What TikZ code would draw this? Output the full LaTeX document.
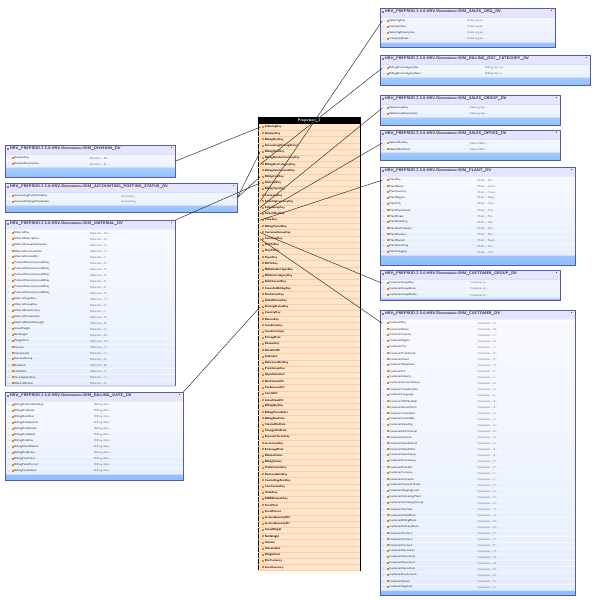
\documentclass[tikz,border=0pt]{standalone}
\usetikzlibrary{calc}

\tikzset{
  tab/.style={draw=gray!70!blue, top color=blue!6, bottom color=blue!55!cyan!45, inner sep=0pt},
  hdr/.style={font=\sffamily\fontsize{3.8}{4}\selectfont\bfseries, text=black!85, inner sep=1pt, anchor=north west},
  row/.style={font=\sffamily\fontsize{2.9}{3}\selectfont, inner sep=0pt, anchor=west},
  link/.style={draw=black!80, line width=0.5pt}
}
\newcommand\el{\ldots}

% name, x, y, width, height, title, rows (name/descr)
\newcommand\dimtab[7]{%
  \node[tab, minimum width=#4pt, minimum height=#5pt, anchor=north west] (#1) at (#2,#3) {};
  \fill[blue!10] ($(#1.north west)+(0.5,0.5)$) rectangle ($(#1.north east)+(-0.5,9)$);
  \draw[black!70] ($(#1.north east)+(-4,2)$) -- ++(0,1);
  \node[hdr] (#1-t) at ($(#1.north west)+(1,1)$) {\textcolor{gray}{\rule{2pt}{2pt}}\,HRV\_PREPROD.2-5-0.HRV.Dimensions::#6};
  \foreach \f/\d [count=\i] in {#7} {
    \fill[white, opacity=0.75] ($(#1.north west)+(0.5,4.2+\i*6)$) rectangle ($(#1.north east)+(-0.5,10.2+\i*6)$);
    \draw[blue!15] ($(#1.north west)+(0.5,10.2+\i*6)$) -- ($(#1.north east)+(-0.5,10.2+\i*6)$);
    \node[row] (#1-\i) at ($(#1.north west)+(2,7.2+\i*6)$) {\textcolor{gray}{+\,-}\,\textcolor{orange}{\rule{2pt}{2pt}}\,\textcolor{black!85}{\f}};
    \node[row] at ($(#1.north west)+(0.5*#4,7.2+\i*6)$) {\textcolor{black!60}{\d}};
  }
}

\begin{document}
\begin{tikzpicture}[x=1pt, y=-1pt]
  \useasboundingbox (0,0) rectangle (600,600);
  \fill[white] (0,0) rectangle (600,600);

  % projection
  \node[draw=black, fill=orange!20, minimum width=102pt, minimum height=453pt, anchor=north west, inner sep=0pt] (proj) at (258,117) {};
  \node[fill=black, text=white, font=\sffamily\fontsize{3.8}{4}\selectfont\bfseries, minimum width=102pt, minimum height=7pt, inner sep=0pt, anchor=north west] (proj-t) at (proj.north west) {Projection\_1};
  \foreach \f [count=\i] in {SalesOrgKey,DivisionKey,BillingDocKey,AccountingPostingStatus,BillingItemKey,BillingHeaderCurrencyKey,BillingDocCategoryKey,BillingItemCreatedKey,BillingLineKey,MaterialKey,BillingTypeKey,CompanyKey,SalesOrgCurrencyKey,SalesGroupKey,SalesOfficeKey,PlantKey,BillingPeriodKey,CustomerGroupKey,CustomerKey,SoldToKey,ShipToKey,PayerKey,BillToKey,BillSalesDocTypeKey,BillItemCategoryKey,DistChannelKey,CancelledBillingKey,DocStatusKey,GlobalStatusKey,PostingStatusKey,CountryKey,ReturnKey,ConditionKey,ConditionType,PricingDate,ReasonKey,RetailUOM,SalesUnit,ReferenceDocKey,PriceGroupKey,QtyInSalesUnit,NetValueInDC,TaxAmountDC,CostInDC,GrossValueDC,BillingQtyKey,BillingPeriodDate,BillingRunDate,CreatedOnDate,ChangedOnDate,PaymentTermsKey,IncotermsKey,ExchangeRate,RebateStatus,BillingStatus,ProfitCenterKey,BusinessAreaKey,ControllingAreaKey,CostCenterKey,OrderKey,WBSElementKey,FiscalYear,FiscalPeriod,InvoiceQuantityBU,InvoiceQuantitySU,GrossWeight,NetWeight,Volume,VolumeUnit,WeightUnit,DocCurrency,LocalCurrency} {
    \draw[orange!40] ($(proj.north west)+(0,6.2*\i+7.1)$) -- ($(proj.north east)+(0,6.2*\i+7.1)$);
    \node[row, font=\sffamily\fontsize{2.9}{3}\selectfont\bfseries] (proj-\i) at ($(proj.north west)+(2,6.2*\i+4)$) {\textcolor{gray}{--}\,\textcolor{orange}{\rule{2pt}{2pt}}\,\f};
  }

  % left
  \dimtab{div}{5}{145}{170}{32}{DIM\_DIVISION\_DV}{DivisionKey/Division -- Ke,DivisionDescription/Division -- D\el}
  \dimtab{acc}{5}{183}{232}{29}{DIM\_ACCOUNTING\_POSTING\_STATUS\_DV}{AccountingPostStatusKey/Accountin\el,AccountPostingStatusDescr/Accounting\el}
  \dimtab{mat}{5}{220}{170}{165}{DIM\_MATERIAL\_DV}{MaterialKey/Material -- Ke\el,MaterialDescription/Material -- D\el,MaterialGroupDescription/Material -- G\el,MaterialCreationDate/Material -- C\el,MaterialCreatedBy/Material -- C\el,ProductHierarchyLevel1Key/Material -- P\el,ProductHierarchyLevel2Key/Material -- P\el,ProductHierarchyLevel3Key/Material -- P\el,ProductHierarchyLevel4Key/Material -- P\el,ProductHierarchyLevel5Key/Material -- P\el,ProductHierarchyLevel6Key/Material -- P\el,MaterialTypeKey/Material -- T\el,MaterialGroupKey/Material -- G\el,MaterialIndustryKey/Material -- I\el,MaterialDivisionKey/Material -- D\el,MaterialBatchManaged/Material -- B\el,GrossWeight/Material -- G\el,NetWeight/Material -- N\el,WeightUnit/Material -- W\el,Volume/Material -- V\el,VolumeUnit/Material -- V\el,ExternalGroup/Material -- E\el,BaseUnit/Material -- B\el,LabOffice/Material -- L\el,TaxClassification/Material -- T\el,MaterialStatus/Material -- S\el}
  \dimtab{bdat}{5}{392}{178}{88}{DIM\_BILLING\_DATE\_DV}{BillingDateCalDateKey/Billing date\el,BillingDateDate/Billing date\el,BillingDateYear/Billing date\el,BillingDateQuarter/Billing date\el,BillingDateMonth/Billing date\el,BillingDateWeek/Billing date\el,BillingDateDay/Billing date\el,BillingMonthName/Billing date\el,BillingDayName/Billing date\el,BillingFiscalYear/Billing date\el,BillingFiscalPeriod/Billing date\el,BillingFiscalWeek/Billing date\el}

  % right
  \dimtab{sorg}{380}{8}{175}{39}{DIM\_SALES\_ORG\_DV}{SalesOrgKey/Sales organ\el,CompanyKey/Sales organ\el,SalesOrgDescription/Sales organi\el,CompanyName/Sales organi\el}
  \dimtab{bcat}{380}{55}{210}{30}{DIM\_BILLING\_DOC\_CATEGORY\_DV}{BillingDocCategoryKey/Billing doc ca\el,BillingDocCategoryDescr/Billing doc c\el}
  \dimtab{sgrp}{380}{95}{180}{30}{DIM\_SALES\_GROUP\_DV}{SalesGroupKey/Sales group -\el,SalesGroupDescription/Sales group \el}
  \dimtab{soff}{380}{130}{180}{30}{DIM\_SALES\_OFFICE\_DV}{SalesOfficeKey/Sales Office -\el,SalesOfficeDescr/Sales Office \el}
  \dimtab{plant}{380}{167}{195}{98}{DIM\_PLANT\_DV}{PlantKey/Plant -- Ke\el,PlantName/Plant -- Loca\el,PlantCountry/Plant -- Coun\el,PlantRegion/Plant -- Regi\el,PlantCity/Plant -- City\el,PlantPostalCode/Plant -- Pos\el,PlantStreet/Plant -- Str\el,PlantSalesOrg/Plant -- Sal\el,PlantDistChannel/Plant -- Dis\el,PlantDivision/Plant -- Div\el,PlantName2/Plant -- Nam\el,PlantPurchOrg/Plant -- Pur\el,PlantCategory/Plant -- Cat\el}
  \dimtab{cgrp}{380}{270}{180}{30}{DIM\_CUSTOMER\_GROUP\_DV}{CustomerGroupKey/Customer gr\el,CustomerGroupDescr/Customer gr\el,CustomerGroupName/Customer G\el}
  \dimtab{cust}{380}{310}{195}{285}{DIM\_CUSTOMER\_DV}{CustomerKey/Customer -- K\el,CustomerName/Customer -- N\el,CustomerCountry/Customer -- C\el,CustomerRegion/Customer -- R\el,CustomerCity/Customer -- C\el,CustomerPostalCode/Customer -- P\el,CustomerStreet/Customer -- S\el,CustomerTelephone/Customer -- T\el,CustomerFax/Customer -- F\el,CustomerIndustry/Customer -- I\el,CustomerAccountGroup/Customer -- A\el,CustomerClassification/Customer -- C\el,CustomerLanguage/Customer -- L\el,CustomerVATNumber/Customer -- V\el,CustomerSearchTerm/Customer -- S\el,CustomerCreatedOn/Customer -- C\el,CustomerCreatedBy/Customer -- C\el,CustomerSalesOrg/Customer -- S\el,CustomerDistChannel/Customer -- D\el,CustomerDivision/Customer -- D\el,CustomerSalesDistrict/Customer -- S\el,CustomerSalesOffice/Customer -- S\el,CustomerSalesGroup/Customer -- S\el,CustomerPriceGroup/Customer -- P\el,CustomerPriceList/Customer -- P\el,CustomerCurrency/Customer -- C\el,CustomerIncoterms/Customer -- I\el,CustomerPaymentTerms/Customer -- P\el,CustomerShippingCond/Customer -- S\el,CustomerDeliveringPlant/Customer -- D\el,CustomerAcctAssignGroup/Customer -- A\el,CustomerTaxClass/Customer -- T\el,CustomerOrderBlock/Customer -- O\el,CustomerBillingBlock/Customer -- B\el,CustomerDeliveryBlock/Customer -- D\el,CustomerPartner1/Customer -- P\el,CustomerPartner2/Customer -- P\el,CustomerPartner3/Customer -- P\el,CustomerHierarchy1/Customer -- H\el,CustomerHierarchy2/Customer -- H\el,CustomerHierarchy3/Customer -- H\el,CustomerHierarchy4/Customer -- H\el,CustomerKeyAccount/Customer -- K\el,CustomerStatus/Customer -- S\el,CustomerSegment/Customer -- S\el}

  % links
  \draw[link] (div.east) -- (proj-1.west);
  \draw[link] (acc.east) -- (proj-9.west);
  \draw[link] (acc.east) -- (proj-5.west);
  \draw[link] (mat.north east) -- (proj-10.west);
  \draw[link] (bdat.north east) -- (proj-30.west);
  \draw[link] (sorg-1.west) -- (proj-13.west);
  \draw[link] (bcat-1.west) -- (proj-7.west);
  \draw[link] (sgrp-1.west) -- (proj-14.west);
  \draw[link] (soff-1.west) -- (proj-15.west);
  \draw[link] (plant-1.west) -- (proj-16.west);
  \draw[link] (cgrp-1.west) -- (proj-18.west);
  \draw[link] (cust-1.west) -- (proj-19.west);
\end{tikzpicture}
\end{document}
